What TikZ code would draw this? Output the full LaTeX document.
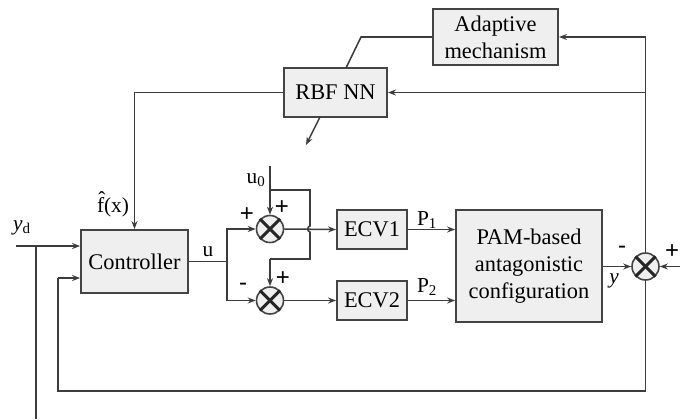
\documentclass[tikz,border=0pt]{standalone}
\usepackage{fontspec}
\setmainfont{Liberation Serif}
\newfontfamily\signfont{Liberation Sans}
\usetikzlibrary{arrows.meta}
\definecolor{boxfill}{HTML}{EFEFEF}
\definecolor{boxline}{HTML}{444444}
\definecolor{wire}{HTML}{3C3C3C}
\tikzset{
  blk/.style={draw=boxline, line width=1.4pt, fill=boxfill, align=center, inner sep=0pt,
    font=\fontsize{16.8}{20.5}\selectfont},
  sumnode/.style={circle, draw=boxline, line width=1.2pt, fill=boxfill, minimum size=20.25pt, inner sep=0pt},
  wireline/.style={draw=wire, line width=1.15pt},
  arr/.style={wireline, -{Stealth[length=6pt,width=4.5pt]}},
  lbl/.style={inner sep=0pt, font=\fontsize{16}{19}\selectfont},
  sgn/.style={inner sep=0pt, font=\signfont\fontsize{18}{19}\selectfont}
}
\begin{document}
\begin{tikzpicture}[x=0.75pt,y=-0.75pt]
\useasboundingbox (0,0) rectangle (680,419);
% blocks
\node[blk, minimum width=93.75pt, minimum height=42pt] (adapt) at (495.5,37) {Adaptive\\mechanism};
\node[blk, minimum width=77.25pt, minimum height=36.75pt] (rbf) at (335.5,92.5) {RBF NN};
\node[blk, minimum width=80.25pt, minimum height=47.25pt] (ctrl) at (134.5,261.5) {Controller};
\node[blk, minimum width=52.5pt, minimum height=29.25pt] (ecv1) at (372,229.5) {ECV1};
\node[blk, minimum width=52.5pt, minimum height=29.25pt] (ecv2) at (372,300.5) {ECV2};
\node[blk, minimum width=109.5pt, minimum height=84pt] (pam) at (529,266) {PAM-based\\antagonistic\\configuration};
% summers
\node[sumnode] (s1) at (270,229) {};
\node[sumnode] (s2) at (270,300.5) {};
\node[sumnode] (s3) at (645.5,266.5) {};
\foreach \s in {s1,s2,s3}{
  \draw[line width=2.3pt, black!85] (\s.north east) -- (\s.south west);
  \draw[line width=2.3pt, black!85] (\s.north west) -- (\s.south east);
}
% coordinates
\coordinate (rt) at (645.5,37);
\coordinate (rm) at (645.5,92.5);
\coordinate (rb) at (645.5,391);
\coordinate (lb) at (58,391);
\coordinate (lfb) at (58,278);
\coordinate (ydin) at (16,246);
\coordinate (ydj) at (36,246);
\coordinate (ydend) at (36,419);
\coordinate (rin) at (680,266.5);
\coordinate (rbfl) at (134.5,92.5);
\coordinate (adk) at (361,37);
\coordinate (rbftop) at (346,68);
\coordinate (rbfa) at (320,117);
\coordinate (rbfb) at (306,145);
\coordinate (uj) at (227,261.5);
\coordinate (u0top) at (270,166);
\coordinate (u0j) at (270,190);
\coordinate (u0r) at (310,190);
\coordinate (u0rb) at (310,259);
\coordinate (u0lb) at (270,259);
% feedback / adaptive wiring
\draw[wireline] (s3.north) -- (rt);
\draw[arr] (rt) -- (adapt.east);
\draw[arr] (rm) -- (rbf.east);
\draw[wireline] (adapt.west) -- (adk) -- (rbftop);
\draw[arr] (rbf.west) -- (rbfl) -- (ctrl.north);
\draw[arr] (rbfa) -- (rbfb);
\draw[wireline] (s3.south) -- (rb) -- (lb) -- (lfb);
\draw[arr] (lfb) -- (ctrl.west |- lfb);
\draw[arr] (ydin) -- (ctrl.west |- ydin);
\draw[wireline] (ydj) -- (ydend);
\draw[arr] (rin) -- (s3.east);
% u branch
\draw[wireline] (ctrl.east) -- (uj);
\draw[arr] (uj) |- (s1.west);
\draw[arr] (uj) |- (s2.west);
% u0
\draw[arr] (u0top) -- (s1.north);
\draw[wireline] (u0j) -- (u0r) -- (310,226) .. controls (307,226.5) and (307,231.5) .. (310,232) -- (u0rb) -- (u0lb);
\draw[arr] (u0lb) -- (s2.north);
% to ECVs and PAM
\draw[arr] (s1.east) -- (ecv1.west);
\draw[arr] (s2.east) -- (ecv2.west);
\draw[arr] (ecv1.east) -- (ecv1.east -| pam.west);
\draw[arr] (ecv2.east) -- (ecv2.east -| pam.west);
\draw[arr] (pam.east |- s3.west) -- (s3.west);
% labels
\node[lbl, anchor=base] (lu) at (208,256) {u};
\node[lbl, anchor=base] (lu0) at (256,183) {u\textsubscript{0}};
\node[lbl, anchor=base] (lfx) at (113,212) {\^{f}(x)};
\node[lbl, anchor=base] (lyd) at (22,230) {\textit{y}\textsubscript{d}};
\node[lbl, anchor=base] (lp1) at (427,225) {P\textsubscript{1}};
\node[lbl, anchor=base] (lp2) at (427,292) {P\textsubscript{2}};
\node[lbl, anchor=base] (ly) at (614,283) {\textit{y}};
\node[sgn] (sg1) at (247,215) {+};
\node[sgn] (sg2) at (243,287) {-};
\node[sgn] (sg3) at (282,208) {+};
\node[sgn] (sg4) at (283,279) {+};
\node[sgn] (sg5) at (622,250) {-};
\node[sgn] (sg6) at (672,252) {+};
\end{tikzpicture}
\end{document}
